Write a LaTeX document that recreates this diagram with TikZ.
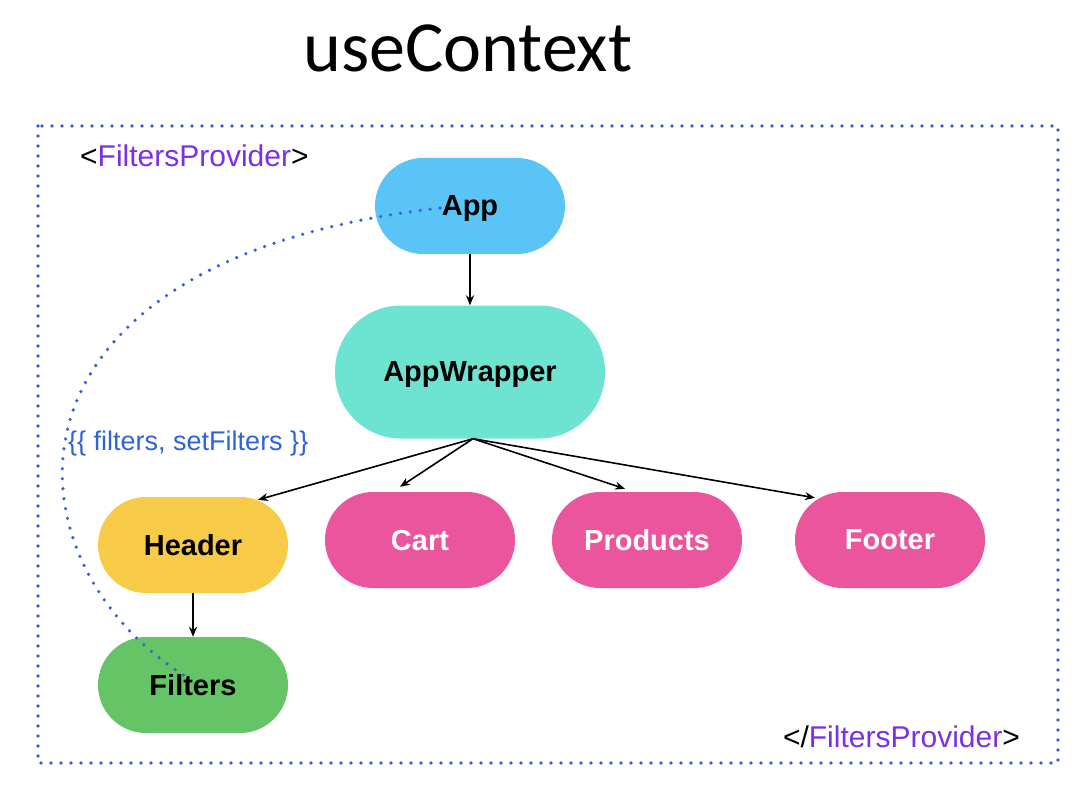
\documentclass[tikz,border=0pt]{standalone}
\usepackage{fontspec}
\setmainfont{Liberation Sans}
\newfontfamily\titlefont{Carlito}
\usetikzlibrary{arrows.meta,calc}
\definecolor{appc}{HTML}{5AC4F7}
\definecolor{awc}{HTML}{6DE4D2}
\definecolor{hdc}{HTML}{F7CA47}
\definecolor{flc}{HTML}{64C466}
\definecolor{pinkc}{HTML}{EA559D}
\definecolor{purp}{HTML}{7A30E6}
\definecolor{lblue}{HTML}{2F62DB}
\definecolor{dotc}{HTML}{3B5FD6}
\tikzset{
  pill/.style={rectangle, rounded corners=48pt, minimum width=190pt, minimum height=96pt, inner sep=0pt, text depth=0pt, font=\fontsize{29}{32}\selectfont\bfseries},
  dotline/.style={draw=dotc, line width=3.6pt, dash pattern=on 0pt off 10pt, line cap=round},
  conn/.style={draw=black, line width=1.6pt, -{Stealth[length=10pt,width=8pt]}},
  tagtext/.style={font=\fontsize{30}{34}\selectfont, inner sep=0pt}
}
\begin{document}
\begin{tikzpicture}[x=1pt,y=-1pt]
\useasboundingbox (0,0) rectangle (1086,786);
\fill[white] (0,0) rectangle (1086,786);
\node[font=\titlefont\fontsize{72}{80}\selectfont, anchor=base, inner sep=0pt] (title) at (468,72) {useContext};
\draw[dotline] (38,126) rectangle (1058,763);
\node[tagtext, anchor=west] (open) at (80,156) {<\textcolor{purp}{FiltersProvider}>};
\node[tagtext, anchor=east] (close) at (1020,737) {</\textcolor{purp}{FiltersProvider}>};
\node[tagtext, anchor=west, text=lblue, font=\fontsize{27}{30}\selectfont] (val) at (68,444) {\{\{ filters, setFilters \}\}};

\node[pill, fill=appc] (app) at (470,206) {App};
\node[pill, fill=awc, minimum width=270pt, minimum height=133pt, rounded corners=66pt] (aw) at (470,372) {AppWrapper};
\node[pill, fill=hdc] (hd) at (193,545) {Header};
\node[pill, fill=flc] (flt) at (193,685) {Filters};
\node[pill, fill=pinkc, text=white] (cart) at (420,540) {Cart};
\node[pill, fill=pinkc, text=white] (prod) at (647,540) {Products};
\node[pill, fill=pinkc, text=white] (foot) at (890,540) {Footer};

\draw[conn, line width=2.4pt] (app.south) -- (aw.north);
\draw[conn] (hd.south) -- (flt.north);
\draw[conn] ($(aw.south)+(3,0)$) -- ($(hd.north)+(65,3)$);
\draw[conn] ($(aw.south)+(3,0)$) -- ($(cart.north)+(-20,-5)$);
\draw[conn] ($(aw.south)+(3,0)$) -- ($(prod.north)+(-22,-3)$);
\draw[conn] ($(aw.south)+(3,0)$) -- ($(foot.north)+(-75,6)$);

\draw[dotline] ($(app.center)+(-30,2)$) .. controls (-20,260) and (0,560) .. ($(flt.center)+(-8,-9)$);
\end{tikzpicture}
\end{document}
